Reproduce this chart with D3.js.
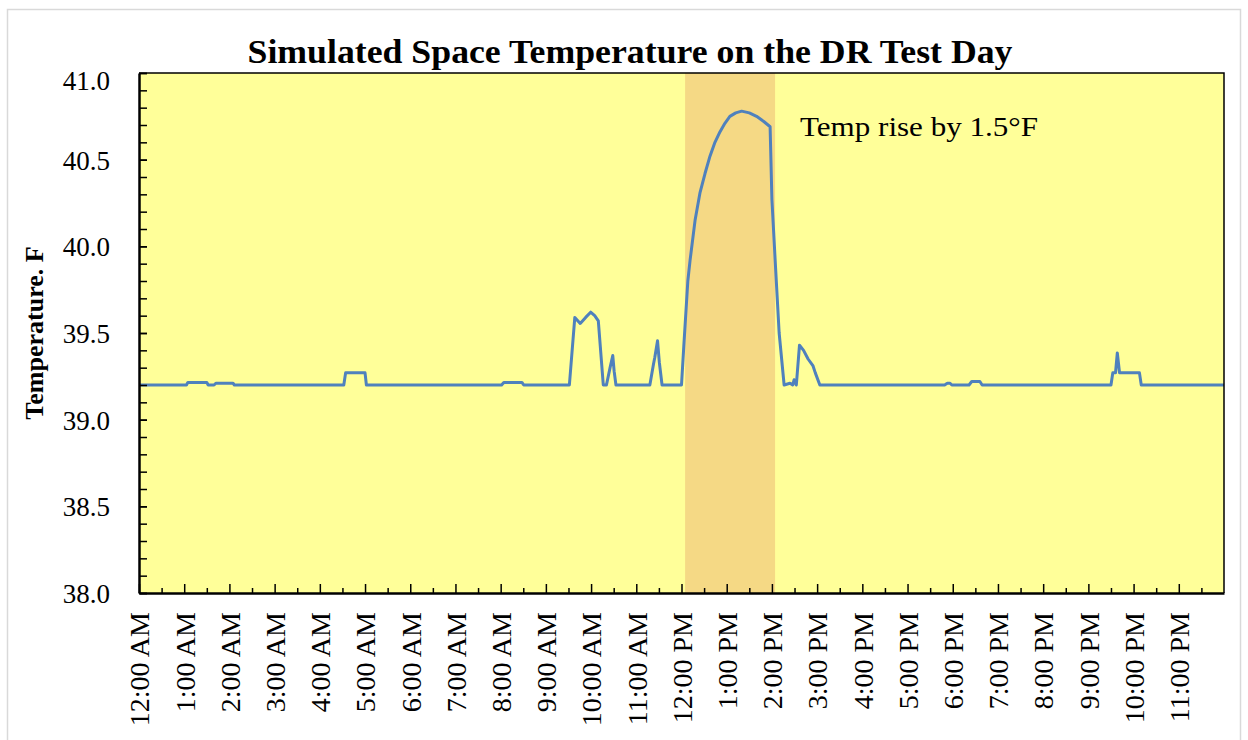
<!DOCTYPE html>
<html>
<head>
<meta charset="utf-8">
<script src="https://cdn.jsdelivr.net/npm/d3@7"></script>
<style>
    body { margin: 0; background: #ffffff; }
    svg { display: block; }
    text { font-family: "Liberation Serif", "Times New Roman", serif; fill: #000; }
</style>
</head>
<body>
<div id="chart"></div>
<script>
// time of day in hours and simulated space temperature (F)
let hours = [0, 1.05, 1.08, 1.50, 1.53, 1.66, 1.70, 2.08, 2.11, 4.53, 4.57, 5.00, 5.03,
    8.02, 8.07, 8.47, 8.51, 9.52, 9.64, 9.76, 9.88, 9.99, 10.08, 10.16, 10.27, 10.34,
    10.42, 10.48, 10.51, 10.55, 11.30, 11.38, 11.41, 11.47, 11.51, 11.57, 12.00, 12.05,
    12.14, 12.19, 12.30, 12.41, 12.52, 12.63, 12.74, 12.85, 12.96, 13.07, 13.20, 13.33,
    13.50, 13.66, 13.82, 13.96, 14.00, 14.08, 14.16, 14.27, 14.40, 14.46, 14.49, 14.54,
    14.61, 14.70, 14.80, 14.91, 14.96, 15.06, 17.82, 17.88, 17.94, 17.98, 18.36, 18.42,
    18.60, 18.65, 21.50, 21.54, 21.60, 21.64, 21.69, 22.13, 22.17, 24.0];
let temps = [39.20, 39.20, 39.215, 39.215, 39.20, 39.20, 39.21, 39.21, 39.20, 39.20, 39.27, 39.27, 39.20,
    39.20, 39.215, 39.215, 39.20, 39.20, 39.59, 39.555, 39.59, 39.62, 39.60, 39.57, 39.20, 39.20,
    39.30, 39.37, 39.28, 39.20, 39.20, 39.32, 39.36, 39.455, 39.33, 39.20, 39.20, 39.42,
    39.80, 39.92, 40.15, 40.31, 40.42, 40.52, 40.60, 40.66, 40.71, 40.75, 40.77, 40.78,
    40.77, 40.75, 40.72, 40.69, 40.27, 39.88, 39.50, 39.20, 39.21, 39.20, 39.23, 39.20,
    39.43, 39.40, 39.35, 39.31, 39.27, 39.20, 39.20, 39.21, 39.21, 39.20, 39.20, 39.22,
    39.22, 39.20, 39.20, 39.27, 39.27, 39.385, 39.27, 39.27, 39.20, 39.20];

// demand response event window (hours)
let drWindow = [12.08, 14.07];

let xTickLabels = ["12:00 AM", "1:00 AM", "2:00 AM", "3:00 AM", "4:00 AM", "5:00 AM",
    "6:00 AM", "7:00 AM", "8:00 AM", "9:00 AM", "10:00 AM", "11:00 AM",
    "12:00 PM", "1:00 PM", "2:00 PM", "3:00 PM", "4:00 PM", "5:00 PM",
    "6:00 PM", "7:00 PM", "8:00 PM", "9:00 PM", "10:00 PM", "11:00 PM"];
let yTicks = [38.0, 38.5, 39.0, 39.5, 40.0, 40.5, 41.0];

let W = 1248, H = 740;
let plot = { left: 139, top: 73, right: 1224, bottom: 593 };

let svg = d3.select("#chart").append("svg")
    .attr("width", W)
    .attr("height", H);

// chart frame
svg.append("rect")
    .attr("x", 7.5).attr("y", 9.5)
    .attr("width", 1233).attr("height", 745)
    .attr("fill", "#fff")
    .attr("stroke", "#d9d9d9")
    .attr("stroke-width", 1.5);

let x = d3.scaleLinear().domain([0, 24]).range([plot.left, plot.right]);
let y = d3.scaleLinear().domain([38, 41]).range([plot.bottom, plot.top]);

// plot background
svg.append("rect")
    .attr("x", plot.left).attr("y", plot.top)
    .attr("width", plot.right - plot.left)
    .attr("height", plot.bottom - plot.top)
    .attr("fill", "#ffff99");

// DR window shading
svg.append("rect")
    .attr("x", x(drWindow[0])).attr("y", plot.top)
    .attr("width", x(drWindow[1]) - x(drWindow[0]))
    .attr("height", plot.bottom - plot.top)
    .attr("fill", "#f5d985");

// temperature line
let series = hours.map((h, i) => [h, temps[i]]);
svg.append("path")
    .datum(series)
    .attr("fill", "none")
    .attr("stroke", "#4f81bd")
    .attr("stroke-width", 3)
    .attr("stroke-linejoin", "round")
    .attr("d", d3.line().x(d => x(d[0])).y(d => y(d[1])));

// top and right borders
svg.append("path")
    .attr("d", `M${plot.left},${plot.top}H${plot.right}V${plot.bottom}`)
    .attr("fill", "none")
    .attr("stroke", "#000")
    .attr("stroke-width", 1.5);

// y minor ticks
svg.append("g")
    .attr("transform", `translate(${plot.left},0)`)
    .call(d3.axisLeft(y).tickValues(d3.range(0, 31).map(i => 38 + i / 10)).tickSize(-8).tickFormat(""))
    .call(g => g.select(".domain").remove())
    .selectAll("line").attr("stroke-width", 1.5);

// y axis
let yAxis = svg.append("g")
    .attr("transform", `translate(${plot.left},0)`)
    .call(d3.axisLeft(y).tickValues(yTicks).tickSize(-8).tickSizeOuter(0).tickPadding(29)
        .tickFormat(d3.format(".1f")));
yAxis.select(".domain").attr("stroke-width", 2.5);
yAxis.selectAll("line").attr("stroke-width", 1.5);
yAxis.selectAll("text")
    .style("font-size", "27px")
    .attr("dy", d => d === 41 ? "0.6em" : "0.35em");

// x minor ticks (half hours)
svg.append("g")
    .attr("transform", `translate(0,${plot.bottom})`)
    .call(d3.axisBottom(x).tickValues(d3.range(0, 24).map(h => h + 0.5)).tickSize(-5).tickFormat(""))
    .call(g => g.select(".domain").remove())
    .selectAll("line").attr("stroke-width", 1.5);

// x axis
let xAxis = svg.append("g")
    .attr("transform", `translate(0,${plot.bottom})`)
    .call(d3.axisBottom(x).tickValues(d3.range(0, 24)).tickSize(-9).tickSizeOuter(0)
        .tickFormat(d => xTickLabels[d]));
xAxis.select(".domain").attr("stroke-width", 2.5);
xAxis.selectAll("line").attr("stroke-width", 1.5);
xAxis.selectAll("text")
    .style("font-size", "28px")
    .attr("transform", "rotate(-90)")
    .attr("text-anchor", "end")
    .attr("x", -19)
    .attr("y", 0)
    .attr("dy", "0.35em");

// title
svg.append("text")
    .attr("x", 630).attr("y", 63)
    .attr("text-anchor", "middle")
    .attr("textLength", 765)
    .attr("lengthAdjust", "spacingAndGlyphs")
    .style("font-size", "33px")
    .style("font-weight", "bold")
    .text("Simulated Space Temperature on the DR Test Day");

// y axis title
svg.append("text")
    .attr("transform", `translate(43,${(plot.top + plot.bottom) / 2}) rotate(-90)`)
    .attr("text-anchor", "middle")
    .style("font-size", "26px")
    .style("font-weight", "bold")
    .text("Temperature. F");

// annotation
svg.append("text")
    .attr("x", 800).attr("y", 136)
    .attr("textLength", 238)
    .attr("lengthAdjust", "spacingAndGlyphs")
    .style("font-size", "28px")
    .text("Temp rise by 1.5°F");
</script>
</body>
</html>
